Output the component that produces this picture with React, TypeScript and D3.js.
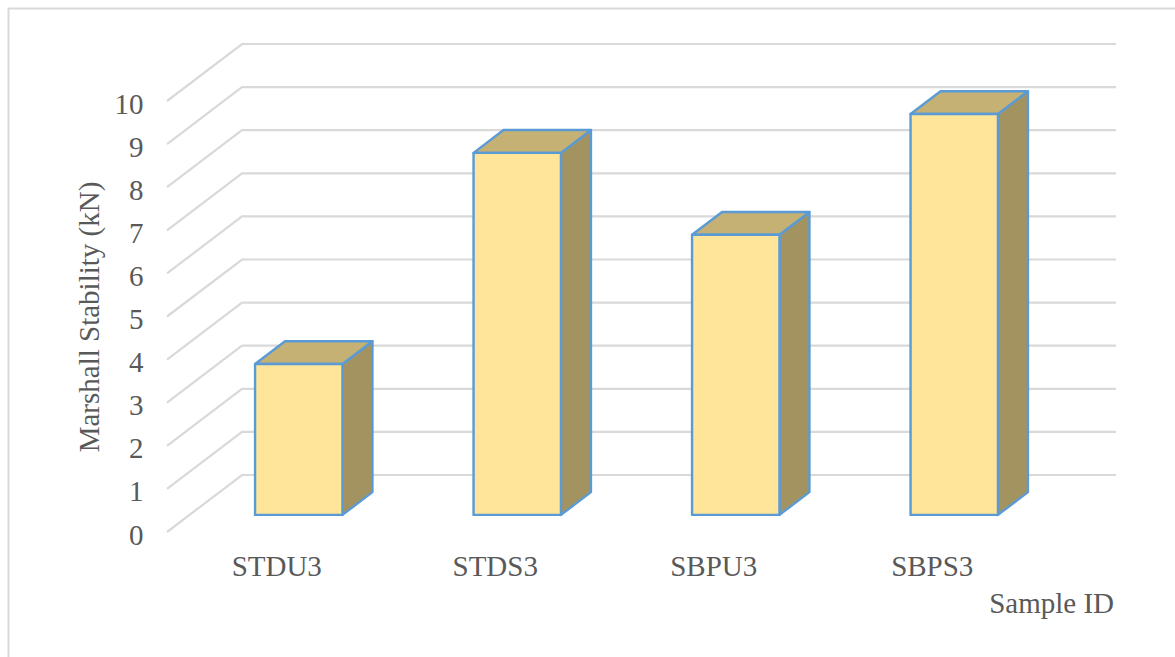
import React from "react";
import * as d3 from "d3";

const categories = ["STDU3", "STDS3", "SBPU3", "SBPS3"];
const stability = [3.5, 8.4, 6.5, 9.3];
const yTicks = d3.range(0, 11);

const WIDTH = 1175;
const HEIGHT = 657;
const TEXT = "#595959";
const GRID = "#d9d9d9";
const FONT = "'Liberation Serif', 'Times New Roman', serif";
const FONT_SIZE = 29;

// Front plane of the 3D box, and the depth vector to its back wall.
const FRONT_LEFT = 167;
const PLOT_W = 874;
const DEPTH_X = 75;
const DEPTH_Y = -57;
const BAR_DEPTH = 0.3; // the column's front face sits this far into the floor
const BAR_SPAN = 0.4; // fraction of the floor depth the column occupies

const y = d3.scaleLinear().domain([0, 10]).range([532, 101]);

const polygon = (pts: [number, number][]) => d3.line()(pts) + "Z";

export default function App() {
  const offX = DEPTH_X * BAR_DEPTH;
  const offY = DEPTH_Y * BAR_DEPTH;
  const dx = DEPTH_X * BAR_SPAN;
  const dy = DEPTH_Y * BAR_SPAN;
  const x = d3
    .scaleBand<string>()
    .domain(categories)
    .range([FRONT_LEFT + offX, FRONT_LEFT + offX + PLOT_W])
    .paddingInner(0.6)
    .paddingOuter(0.3);

  return (
    <svg
      width={WIDTH}
      height={HEIGHT}
      style={{ position: "absolute", left: 0, top: 0, display: "block" }}
      fontFamily={FONT}
      fill={TEXT}
    >
      <rect width={WIDTH} height={HEIGHT} fill="#fff" />
      <path d="M8.5,657V8.5H1175" fill="none" stroke={GRID} strokeWidth={2} />

      {yTicks.map((t) => (
        <g key={t}>
          <path
            d={`M${FRONT_LEFT},${y(t)}L${FRONT_LEFT + DEPTH_X},${y(t) + DEPTH_Y}H${FRONT_LEFT + DEPTH_X + PLOT_W}`}
            fill="none"
            stroke={GRID}
            strokeWidth={2.2}
          />
          <text x={143.5} y={y(t) + 2.5} textAnchor="end" dominantBaseline="central" fontSize={FONT_SIZE}>
            {t}
          </text>
        </g>
      ))}

      {categories.map((c, i) => {
        const x0 = x(c)!;
        const x1 = x0 + x.bandwidth();
        const yBase = y(0) + offY;
        const yTop = y(stability[i]) + offY;
        const stroke = { stroke: "#5b9bd5", strokeWidth: 2.4, strokeLinejoin: "round" as const };
        return (
          <g key={c}>
            <path
              d={polygon([[x1, yTop], [x1 + dx, yTop + dy], [x1 + dx, yBase + dy], [x1, yBase]])}
              fill="#a39361"
              {...stroke}
            />
            <path
              d={polygon([[x0, yTop], [x0 + dx, yTop + dy], [x1 + dx, yTop + dy], [x1, yTop]])}
              fill="#c4b173"
              {...stroke}
            />
            <rect x={x0} y={yTop} width={x1 - x0} height={yBase - yTop} fill="#ffe599" {...stroke} />
            <text x={(x0 + x1) / 2 - 22} y={576} textAnchor="middle" fontSize={FONT_SIZE}>
              {c}
            </text>
          </g>
        );
      })}

      <text x={1114} y={613} textAnchor="end" fontSize={FONT_SIZE}>
        Sample ID
      </text>
      <text
        transform="translate(99,317) rotate(-90)"
        textAnchor="middle"
        fontSize={FONT_SIZE}
      >
        Marshall Stability (kN)
      </text>
    </svg>
  );
}
